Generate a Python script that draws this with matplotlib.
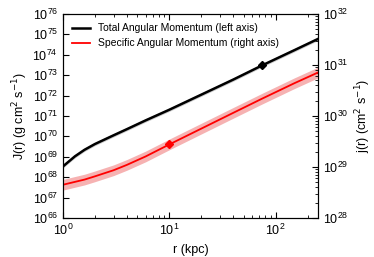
import numpy as np
import matplotlib
matplotlib.use('Agg')
import matplotlib.pyplot as plt

plt.rcParams['font.family'] = ['Liberation Sans', 'DejaVu Sans']

# radius in kpc
r = [1, 1.3, 1.6, 2, 3, 4, 6, 10, 20, 40, 75, 150, 250]
# log10 of total angular momentum J(r) [g cm^2 s^-1]
logJ = [68.52, 69.02, 69.34, 69.62, 70.05, 70.35, 70.78, 71.30, 72.04, 72.78, 73.48, 74.22, 74.77]
# log10 of specific angular momentum j(r) [cm^2 s^-1]
logj = [28.65, 28.707, 28.752, 28.815, 28.935, 29.04, 29.205, 29.44, 29.75, 30.06, 30.34, 30.64, 30.85]
# half width of the shaded bands (dex)
dJ = [0.08] * len(r)
dj = [0.105] * len(r)
# marked points
r_J_mark, logJ_mark = 75, 73.48
r_j_mark, logj_mark = 10, 29.44

r = np.array(r)
logJ, logj = np.array(logJ), np.array(logj)
dJ, dj = np.array(dJ), np.array(dj)

fig = plt.figure(figsize=(3.74, 2.57), dpi=100)
ax = fig.add_axes([0.168, 0.152, 0.682, 0.794])
ax2 = ax.twinx()

ax.fill_between(r, 10**(logJ - dJ), 10**(logJ + dJ), color='0.65', alpha=0.6, lw=0)
l1, = ax.plot(r, 10**logJ, color='black', lw=1.8, label='Total Angular Momentum (left axis)')
ax.plot([r_J_mark], [10**logJ_mark], 'D', color='black', ms=4)

ax2.fill_between(r, 10**(logj - dj), 10**(logj + dj), color='#f08080', alpha=0.6, lw=0)
l2, = ax2.plot(r, 10**logj, color='red', lw=1.3, label='Specific Angular Momentum (right axis)')
ax2.plot([r_j_mark], [10**logj_mark], 'D', color='red', ms=4)

ax.set_xscale('log')
ax.set_yscale('log')
ax2.set_yscale('log')
ax.set_xlim(1, 250)
ax.set_ylim(1e66, 1e76)
ax2.set_ylim(1e28, 1e32)
ax.set_yticks([10.0**k for k in range(66, 77)])
ax2.set_yticks([10.0**k for k in range(28, 33)])

ax.set_xlabel('r (kpc)', fontsize=9)
ax.set_ylabel(r'J(r) (g cm$^2$ s$^{-1}$)', fontsize=9, labelpad=2)
ax2.set_ylabel(r'j(r) (cm$^2$ s$^{-1}$)', fontsize=9, labelpad=4)

ax.tick_params(which='both', direction='in', top=True, right=False, labelsize=9)
ax.tick_params(which='major', length=4)
ax.tick_params(which='minor', length=2)
ax2.tick_params(which='both', direction='in', labelsize=9)
ax2.tick_params(which='major', length=4)
ax2.tick_params(which='minor', length=2)

ax.legend(handles=[l1, l2], loc='upper left', frameon=False, fontsize=7.5,
          handlelength=1.75, handletextpad=0.7, borderaxespad=0.5, labelspacing=0.5)

fig.savefig('out.png', dpi=100)
